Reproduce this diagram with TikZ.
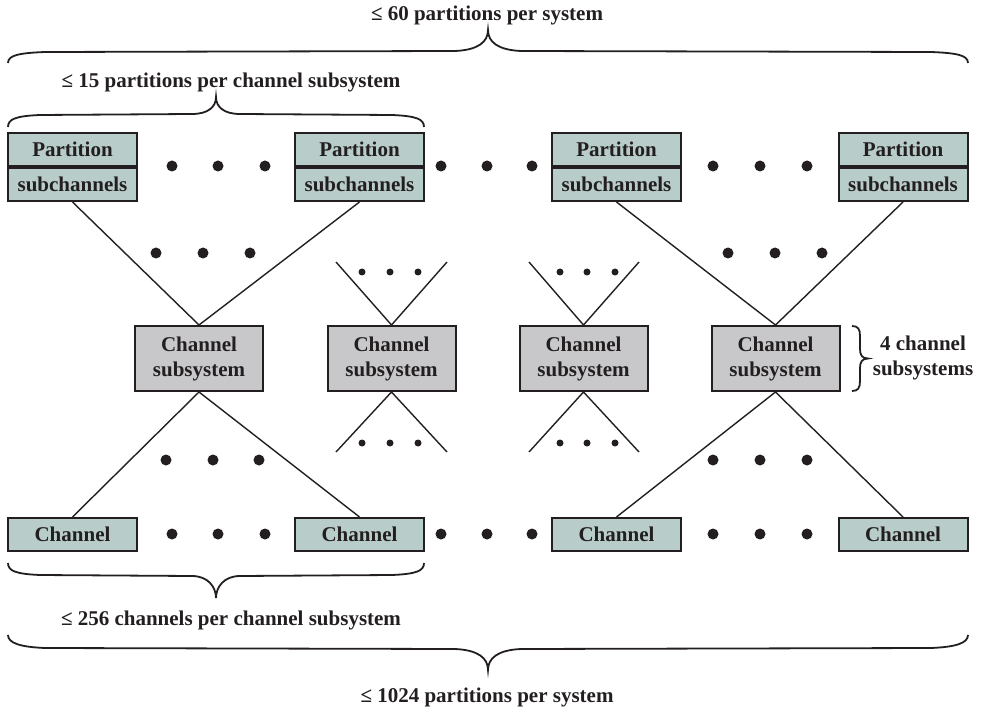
\documentclass[tikz,border=0pt]{standalone}
\usepackage{fontspec}
\setmainfont{Liberation Serif}
\usepackage{tikz}
\usetikzlibrary{positioning}
\definecolor{inkx}{HTML}{231F20}
\definecolor{partfill}{HTML}{B8CCC9}
\definecolor{csfill}{HTML}{C8C8CA}
\tikzset{
  txt/.style={font=\fontsize{21}{25}\selectfont\bfseries,text=inkx},
  partbox/.style={txt,draw=inkx,line width=2pt,fill=partfill,minimum width=129pt,minimum height=33pt,inner sep=0pt},
  csbox/.style={txt,draw=inkx,line width=2pt,fill=csfill,minimum width=128pt,minimum height=65pt,inner sep=0pt,align=center},
  ln/.style={inkx,line width=1.4pt},
  brc/.style={inkx,line width=1.8pt},
  lbl/.style={txt,align=center}
}

\begin{document}
\begin{tikzpicture}[x=1pt,y=-1pt]
\useasboundingbox (0,0) rectangle (984,708);
% labels
\node[lbl] (lsys) at (487,15) {≤ 60 partitions per system};
\node[lbl] (lcss) at (231,82) {≤ 15 partitions per channel subsystem};
\node[lbl] (lchn) at (231,620) {≤ 256 channels per channel subsystem};
\node[lbl] (lall) at (487,697) {≤ 1024 partitions per system};
\node[lbl] (lfour) at (923,358) {4 channel\\subsystems};
% boxes
\foreach \i/\x in {1/72.5,2/359.5,3/616.5,4/903}{
  \node[partbox] (pt\i) at (\x,149.5) {Partition};
  \node[partbox,below=0pt of pt\i] (pb\i) {subchannels};
  \node[partbox] (ch\i) at (\x,534.5) {Channel};
}
\foreach \i/\x in {1/199,2/391.5,3/583.5,4/775.5}
  \node[csbox] (cs\i) at (\x,358.5) {Channel\\subsystem};
% links
\draw[ln] (pb1.south) -- (cs1.north) -- (pb2.south);
\draw[ln] (ch1.north) -- (cs1.south) -- (ch2.north);
\draw[ln] (pb3.south) -- (cs4.north) -- (pb4.south);
\draw[ln] (ch3.north) -- (cs4.south) -- (ch4.north);
\coordinate (s2nw) at (336,262); \coordinate (s2ne) at (447,262);
\coordinate (s2sw) at (336,452); \coordinate (s2se) at (447,452);
\coordinate (s3nw) at (529,262); \coordinate (s3ne) at (639,262);
\coordinate (s3sw) at (529,452); \coordinate (s3se) at (639,452);
\draw[ln] (s2nw) -- (cs2.north) -- (s2ne);
\draw[ln] (s2sw) -- (cs2.south) -- (s2se);
\draw[ln] (s3nw) -- (cs3.north) -- (s3ne);
\draw[ln] (s3sw) -- (cs3.south) -- (s3se);
% dots
\foreach \x in {172,218,265,441,487,532,713,760,807}{
  \fill[inkx] (\x,166) circle (5.5pt);
  \fill[inkx] (\x,534) circle (5.5pt);
}
\foreach \x in {156,203,250,728,775,822} \fill[inkx] (\x,253) circle (5.5pt);
\foreach \x in {166,213,259,713,760,807} \fill[inkx] (\x,460) circle (5.5pt);
\foreach \x in {362,390,418,560,587,615}{
  \fill[inkx] (\x,272) circle (3.5pt);
  \fill[inkx] (\x,443) circle (3.5pt);
}
% braces
\draw[brc] (8,63) .. controls (8,55) and (20,53) .. (45,52) -- (455,51)
  .. controls (478,50) and (488,42) .. (488,30)
  .. controls (488,42) and (498,50) .. (521,51) -- (931,52)
  .. controls (956,53) and (968,55) .. (968,63);
\draw[brc] (8,127) .. controls (8,119) and (16,116) .. (40,115) -- (192,114)
  .. controls (208,114) and (216,107) .. (216,97)
  .. controls (216,107) and (224,114) .. (240,114) -- (392,115)
  .. controls (416,116) and (424,119) .. (424,127);
\draw[brc] (8,563) .. controls (8,571) and (16,574) .. (40,575) -- (192,576)
  .. controls (208,576) and (216,587) .. (216,598)
  .. controls (216,587) and (224,576) .. (240,576) -- (392,575)
  .. controls (416,574) and (424,571) .. (424,563);
\draw[brc] (8,635) .. controls (8,643) and (20,647) .. (45,648) -- (455,649)
  .. controls (478,650) and (488,658) .. (488,670)
  .. controls (488,658) and (498,650) .. (521,649) -- (931,648)
  .. controls (956,647) and (968,643) .. (968,635);
\draw[brc] (852,326) .. controls (858,326) and (860,329) .. (860,336) -- (860,349)
  .. controls (860,355) and (862,358.5) .. (868,358.5)
  .. controls (862,358.5) and (860,362) .. (860,368) -- (860,381)
  .. controls (860,388) and (858,391) .. (852,391);
\end{tikzpicture}
\end{document}
